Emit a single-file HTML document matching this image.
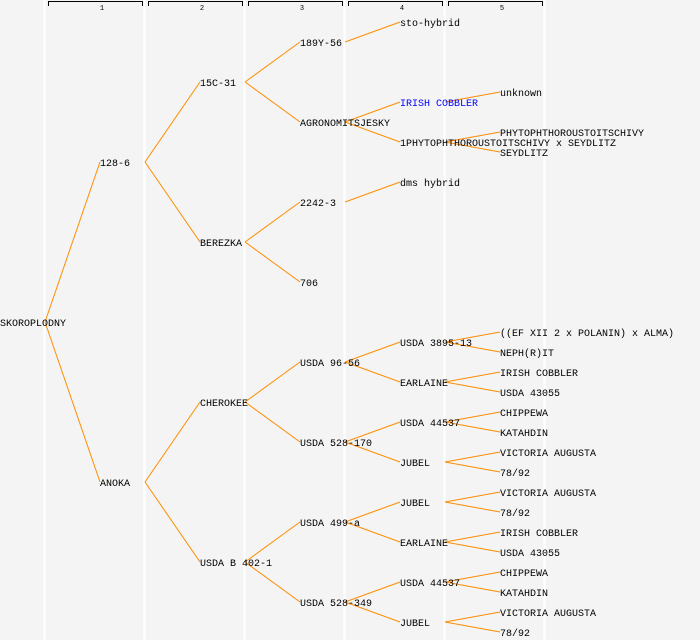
<!DOCTYPE html>
<html><head><meta charset="utf-8"><style>
html,body{margin:0;padding:0;background:#f4f4f4;}
svg{display:block;}
text{font-family:"Liberation Mono",monospace;font-size:10px;fill:#000;}
.h{font-size:7px;}
</style></head><body>
<svg width="700" height="640" viewBox="0 0 700 640" xmlns="http://www.w3.org/2000/svg">
<rect width="700" height="640" fill="#f4f4f4"/>
<g stroke="#fff" stroke-width="2">
<line x1="44.5" y1="0" x2="44.5" y2="640"/><line x1="144.5" y1="0" x2="144.5" y2="640"/><line x1="244.5" y1="0" x2="244.5" y2="640"/><line x1="344.5" y1="0" x2="344.5" y2="640"/><line x1="444.5" y1="0" x2="444.5" y2="640"/><line x1="544.5" y1="0" x2="544.5" y2="640"/>
</g>
<g stroke="#000" stroke-width="1" fill="none">
<path d="M48.5 6V1.5H142.5V6"/><path d="M148.5 6V1.5H242.5V6"/><path d="M248.5 6V1.5H342.5V6"/><path d="M348.5 6V1.5H442.5V6"/><path d="M448.5 6V1.5H542.5V6"/>
</g>
<g class="h" text-anchor="middle">
<text class="h" x="102" y="10">1</text><text class="h" x="202" y="10">2</text><text class="h" x="302" y="10">3</text><text class="h" x="402" y="10">4</text><text class="h" x="502" y="10">5</text>
</g>
<g stroke="#ff8c00" stroke-width="1" fill="none">
<path d="M45 322L100 162M45 322L100 482"/>
<path d="M145 162L200 82M145 162L200 242M145 482L200 402M145 482L200 562"/>
<path d="M245 82L300 42M245 82L300 122M245 242L300 202M245 242L300 282M245 402L300 362M245 402L300 442M245 562L300 522M245 562L300 602"/>
<path d="M345 42L400 22M345 122L400 102M345 122L400 142M345 202L400 182M345 362L400 342M345 362L400 382M345 442L400 422M345 442L400 462M345 522L400 502M345 522L400 542M345 602L400 582M345 602L400 622"/>
<path d="M445 102L500 92M445 142L500 132M445 142L500 152M445 342L500 332M445 342L500 352M445 382L500 372M445 382L500 392M445 422L500 412M445 422L500 432M445 462L500 452M445 462L500 472M445 502L500 492M445 502L500 512M445 542L500 532M445 542L500 552M445 582L500 572M445 582L500 592M445 622L500 612M445 622L500 632"/>
</g>
<g>
<text x="0" y="326">SKOROPLODNY</text>
<text x="100" y="166">128-6</text><text x="100" y="486">ANOKA</text>
<text x="200" y="86">15C-31</text><text x="200" y="246">BEREZKA</text><text x="200" y="406">CHEROKEE</text><text x="200" y="566">USDA B 402-1</text>
<text x="300" y="46">189Y-56</text><text x="300" y="126">AGRONOMITSJESKY</text><text x="300" y="206">2242-3</text><text x="300" y="286">706</text><text x="300" y="366">USDA 96-56</text><text x="300" y="446">USDA 528-170</text><text x="300" y="526">USDA 499-a</text><text x="300" y="606">USDA 528-349</text>
<text x="400" y="26">sto-hybrid</text><text x="400" y="106" style="fill:#0000ff">IRISH COBBLER</text><text x="400" y="146">1PHYTOPHTHOROUSTOITSCHIVY x SEYDLITZ</text><text x="400" y="186">dms hybrid</text>
<text x="400" y="346">USDA 3895-13</text><text x="400" y="386">EARLAINE</text><text x="400" y="426">USDA 44537</text><text x="400" y="466">JUBEL</text><text x="400" y="506">JUBEL</text><text x="400" y="546">EARLAINE</text><text x="400" y="586">USDA 44537</text><text x="400" y="626">JUBEL</text>
<text x="500" y="96">unknown</text><text x="500" y="136">PHYTOPHTHOROUSTOITSCHIVY</text><text x="500" y="156">SEYDLITZ</text>
<text x="500" y="336">((EF XII 2 x POLANIN) x ALMA)</text><text x="500" y="356">NEPH(R)IT</text>
<text x="500" y="376">IRISH COBBLER</text><text x="500" y="396">USDA 43055</text>
<text x="500" y="416">CHIPPEWA</text><text x="500" y="436">KATAHDIN</text>
<text x="500" y="456">VICTORIA AUGUSTA</text><text x="500" y="476">78/92</text>
<text x="500" y="496">VICTORIA AUGUSTA</text><text x="500" y="516">78/92</text>
<text x="500" y="536">IRISH COBBLER</text><text x="500" y="556">USDA 43055</text>
<text x="500" y="576">CHIPPEWA</text><text x="500" y="596">KATAHDIN</text>
<text x="500" y="616">VICTORIA AUGUSTA</text><text x="500" y="636">78/92</text>
</g>
</svg>
</body></html>
